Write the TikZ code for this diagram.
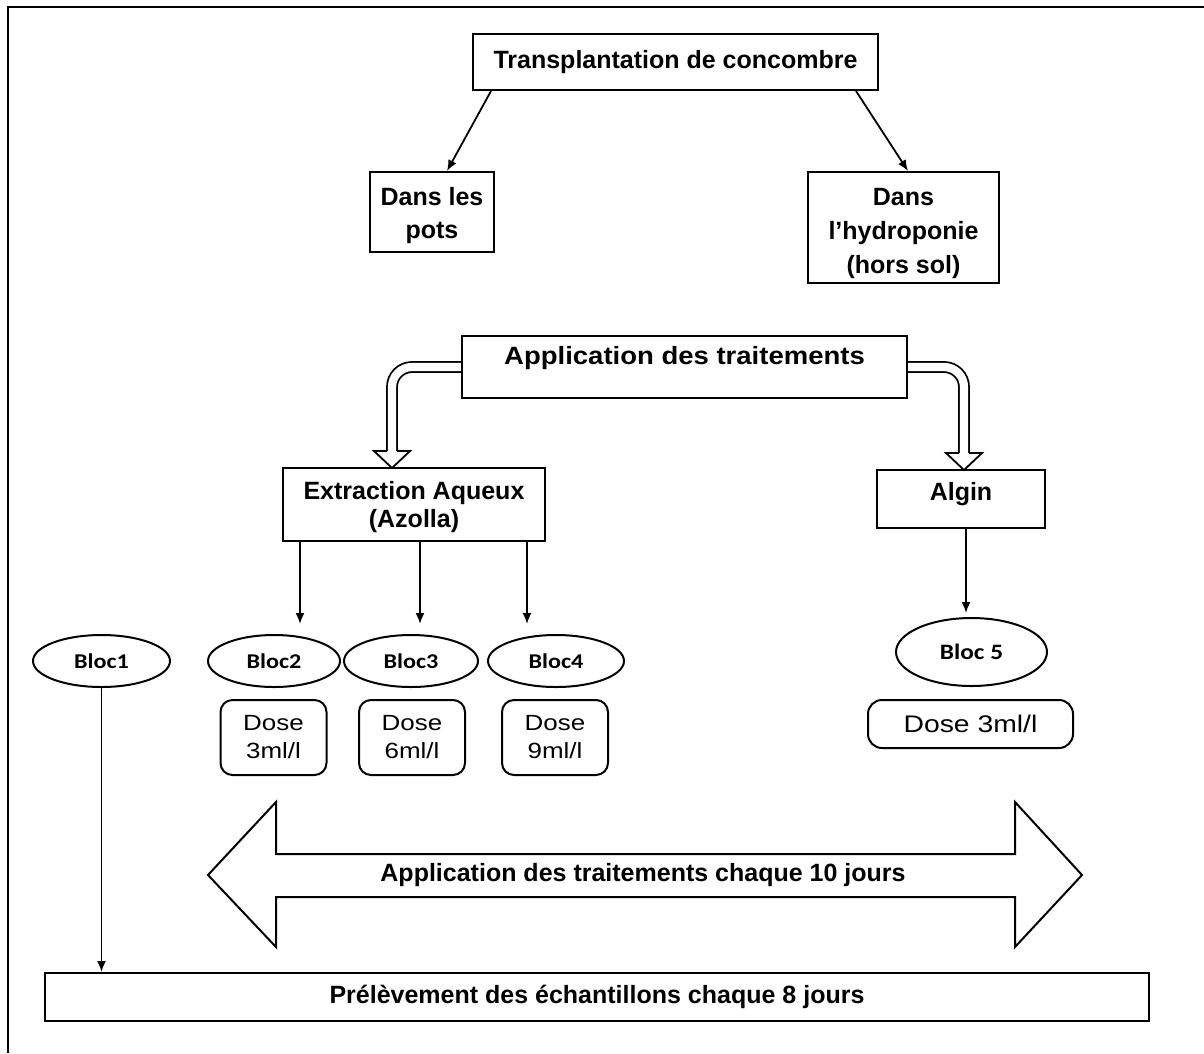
\documentclass[tikz,border=0pt]{standalone}
\usepackage{fontspec}
\setmainfont{Liberation Sans}
\newfontfamily\blocfont{Carlito}[FakeStretch=1.15]
\newfontfamily\widesans{Liberation Sans}[FakeStretch=1.18]
\newfontfamily\appfont{Liberation Sans}[FakeStretch=1.1]
\usetikzlibrary{shapes.geometric,arrows.meta,calc}
\pgfdeclarelayer{bg}
\pgfsetlayers{bg,main}
\begin{document}
\begin{tikzpicture}[x=1pt,y=-1pt,
  box/.style={draw, line width=2pt, inner sep=0pt, align=center,
    font=\bfseries\fontsize{25}{30}\selectfont},
  dosebox/.style={draw, line width=2pt, inner sep=0pt, align=center, rounded corners=12pt,
    font=\widesans\fontsize{22}{28}\selectfont},
  bloc/.style={draw, ellipse, line width=2pt, inner sep=0pt, minimum width=134pt, minimum height=52pt,
    font=\blocfont\bfseries\fontsize{21}{24}\selectfont},
  arr/.style={line width=1.8pt, -{Latex[length=11pt,width=9pt]}},
  hollow/.style={double, double distance=8.2pt, line width=1.8pt, rounded corners=20pt},
  headst/.style={fill=white, line width=1.8pt, line join=miter},
  lbl/.style={font=\bfseries\fontsize{25}{30}\selectfont, inner sep=0pt}
]
\useasboundingbox (0,0) rectangle (1204,1053);
\begin{pgfonlayer}{bg}
\fill[white] (0,0) rectangle (1204,1053);
\end{pgfonlayer}
% frame
\draw[line width=2.5pt] (8,1053) -- (8,7) -- (1204,7);

% top part
\node[box, minimum width=405pt, minimum height=56pt] (top) at (675.5,62) {Transplantation de concombre};
\node[box, minimum width=124pt, minimum height=80pt, font=\bfseries\fontsize{25}{33}\selectfont] (pots) at (432,212) {\rule{0pt}{26pt}Dans les\\pots};
\node[box, minimum width=191pt, minimum height=111pt, font=\bfseries\fontsize{25}{34}\selectfont] (hydro) at (903.5,227.5) {\rule{0pt}{30pt}Dans\\l’hydroponie\\(hors sol)};
\draw[arr] ([xshift=19pt]top.south west) -- ([xshift=15pt]pots.north);
\draw[arr] ([xshift=-23pt]top.south east) -- ([xshift=4.5pt]hydro.north);

% application
\node[box, minimum width=445pt, minimum height=62pt, text height=18pt, text depth=24pt,
  font=\appfont\bfseries\fontsize{25}{30}\selectfont] (app) at (684.5,367) {Application des traitements};
\node[box, minimum width=262pt, minimum height=73pt, font=\bfseries\fontsize{25}{28}\selectfont] (ext) at (414,504.5) {\rule{0pt}{24pt}Extraction Aqueux\\(Azolla)};
\node[box, minimum width=168pt, minimum height=58pt, text height=18pt, text depth=16pt] (algin) at (961,499) {Algin};

\begin{pgfonlayer}{bg}
\draw[hollow] (app.west) -| (392,451);
\filldraw[headst] (387,451) -- (374,451) -- (392,468) -- (410,451) -- (397,451);
\draw[hollow] (app.east) -| (964,453);
\filldraw[headst] (959,453) -- (946,453) -- (964,470) -- (982,453) -- (969,453);
\end{pgfonlayer}

% blocs
\node[bloc, minimum width=137pt] (b1) at (101.5,661) {Bloc1};
\node[bloc, minimum width=132pt] (b2) at (274,661) {Bloc2};
\node[bloc] (b3) at (411,661) {Bloc3};
\node[bloc, minimum width=136pt] (b4) at (556,661) {Bloc4};
\node[bloc, minimum width=151pt, minimum height=68pt, font=\blocfont\bfseries\fontsize{22}{24}\selectfont] (b5) at (971.5,652) {Bloc 5};

\coordinate (x2) at (300,0);
\coordinate (x3) at (420,0);
\coordinate (x4) at (527,0);
\coordinate (x5) at (966,0);
\draw[arr, shorten >=10pt] (ext.south -| x2) -- (b2.north -| x2);
\draw[arr, shorten >=10pt] (ext.south -| x3) -- (b3.north -| x3);
\draw[arr, shorten >=10pt] (ext.south -| x4) -- (b4.north -| x4);
\draw[arr, shorten >=4pt] (algin.south -| x5) -- (b5.north -| x5);

% doses
\node[dosebox, minimum width=106pt, minimum height=75pt] (d2) at (273.5,737.5) {Dose\\3ml/l};
\node[dosebox, minimum width=106pt, minimum height=75pt] (d3) at (412,737.5) {Dose\\6ml/l};
\node[dosebox, minimum width=106pt, minimum height=75pt] (d4) at (555,737.5) {Dose\\9ml/l};
\node[dosebox, minimum width=205pt, minimum height=48pt, rounded corners=14pt,
  font=\widesans\fontsize{24}{28}\selectfont] (d5) at (970.5,724) {Dose 3ml/l};

% big double arrow
\draw[line width=2pt, line join=miter] (208,875) -- (276,802) -- (276,854) -- (1015,854) -- (1015,802)
  -- (1082,875) -- (1015,947) -- (1015,897) -- (276,897) -- (276,947) -- cycle;
\node[lbl] (bigtxt) at (643,875) {Application des traitements chaque 10 jours};

% bottom
\node[box, minimum width=1104pt, minimum height=48pt] (bot) at (597,997) {Prélèvement des échantillons chaque 8 jours};
\draw[arr] (b1.south) -- (b1.south |- bot.north);
\end{tikzpicture}
\end{document}
